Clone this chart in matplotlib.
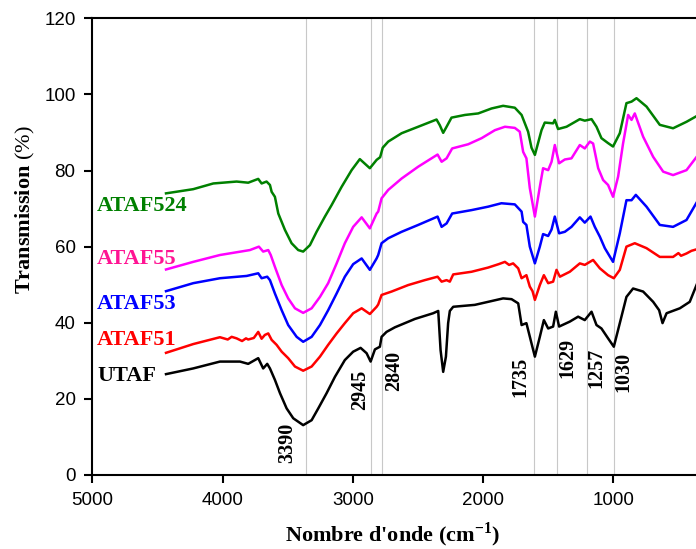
import matplotlib
matplotlib.use("Agg")
import matplotlib.pyplot as plt

plt.rcParams['mathtext.fontset'] = 'custom'
plt.rcParams['mathtext.rm'] = 'Liberation Serif'
plt.rcParams['mathtext.bf'] = 'Liberation Serif:bold'

# spectres FTIR (nombre d'onde cm-1, transmission %)
w_green = [4434, 4225, 4071, 3892, 3803, 3726, 3700, 3662, 3636, 3623, 3598, 3572, 3521, 3470,
           3419, 3381, 3329, 3278, 3214, 3163, 3086, 3009, 2946, 2869, 2817, 2790, 2770, 2728,
           2625, 2498, 2357, 2332, 2306, 2280, 2242, 2139, 2037, 1935, 1846, 1756, 1704, 1654,
           1628, 1602, 1551, 1526, 1462, 1449, 1424, 1359, 1257, 1219, 1167, 1129, 1091, 1040,
           1002, 950, 899, 860, 822, 745, 643, 541, 438, 360]
t_green = [74.0, 75.1, 76.6, 77.1, 76.8, 77.8, 76.6, 77.1, 76.2, 74.4, 73.1, 68.7, 64.4, 60.9,
           59.1, 58.7, 60.4, 63.9, 67.9, 70.9, 75.7, 80.1, 83.0, 80.6, 82.8, 83.5, 86.0, 87.6,
           89.8, 91.5, 93.4, 91.9, 89.9, 91.5, 93.9, 94.6, 95.0, 96.3, 97.0, 96.5, 94.6, 90.2,
           86.0, 84.1, 90.6, 92.6, 92.4, 93.3, 90.9, 91.5, 93.5, 93.1, 93.5, 91.5, 88.5, 87.2,
           86.3, 89.8, 97.7, 98.1, 99.0, 96.8, 92.0, 91.1, 92.8, 94.3]

w_mag = [4434, 4225, 4020, 3790, 3721, 3688, 3649, 3630, 3598, 3546, 3496, 3444, 3381, 3316,
         3252, 3189, 3124, 3061, 2997, 2932, 2869, 2817, 2805, 2779, 2728, 2625, 2498, 2349,
         2318, 2280, 2237, 2114, 2011, 1909, 1832, 1756, 1718, 1692, 1667, 1641, 1602, 1564,
         1539, 1500, 1474, 1449, 1416, 1372, 1321, 1257, 1219, 1180, 1155, 1116, 1078, 1040,
         1002, 963, 925, 886, 860, 835, 771, 694, 617, 541, 438, 360]
t_mag = [54.0, 56.0, 57.8, 59.1, 60.0, 58.7, 59.1, 57.8, 54.7, 49.9, 46.4, 43.8, 42.6, 43.8,
         46.8, 50.4, 55.6, 60.9, 65.2, 67.7, 64.8, 68.7, 69.2, 72.7, 74.9, 77.9, 81.0, 84.2,
         82.3, 83.2, 85.8, 86.9, 88.5, 90.6, 91.5, 91.2, 90.2, 84.9, 83.2, 75.4, 67.9, 75.7,
         80.6, 80.1, 82.3, 86.7, 81.9, 82.9, 83.2, 86.7, 85.8, 87.6, 87.1, 80.6, 77.5, 76.2,
         73.1, 78.4, 87.1, 94.6, 93.3, 95.0, 88.9, 83.6, 79.7, 78.8, 80.1, 83.6]

w_blue = [4434, 4225, 4020, 3815, 3726, 3700, 3657, 3636, 3598, 3546, 3496, 3431, 3381, 3316,
          3252, 3189, 3124, 3061, 2997, 2932, 2869, 2817, 2805, 2779, 2728, 2625, 2498, 2349,
          2318, 2280, 2237, 2088, 1961, 1859, 1756, 1704, 1692, 1667, 1641, 1602, 1564, 1539,
          1500, 1474, 1449, 1416, 1372, 1321, 1257, 1219, 1175, 1142, 1103, 1065, 1002, 950,
          899, 860, 827, 745, 643, 541, 438, 360]
t_blue = [48.3, 50.4, 51.7, 52.3, 53.0, 51.7, 52.1, 51.2, 47.7, 43.3, 39.4, 36.3, 35.0, 36.3,
          39.4, 43.3, 47.7, 52.1, 55.4, 56.9, 53.9, 56.9, 57.8, 60.9, 62.2, 63.9, 65.7, 67.9,
          65.2, 66.1, 68.7, 69.6, 70.5, 71.4, 71.1, 69.2, 66.5, 65.7, 60.0, 55.6, 60.0, 63.3,
          62.8, 64.5, 67.9, 63.5, 63.9, 65.2, 67.7, 66.3, 67.9, 65.2, 62.6, 59.6, 56.0, 63.5,
          72.2, 72.2, 73.6, 70.5, 65.7, 65.2, 67.0, 71.6]

w_red = [4434, 4225, 4020, 3960, 3930, 3892, 3850, 3820, 3803, 3760, 3726, 3700, 3675, 3649,
         3623, 3585, 3546, 3496, 3444, 3381, 3316, 3252, 3189, 3124, 3061, 2997, 2932, 2869,
         2817, 2805, 2779, 2702, 2575, 2447, 2349, 2318, 2280, 2255, 2229, 2088, 1961, 1880,
         1832, 1800, 1769, 1730, 1704, 1667, 1641, 1620, 1602, 1564, 1533, 1500, 1462, 1436,
         1410, 1334, 1257, 1219, 1155, 1103, 1040, 996, 950, 899, 835, 745, 643, 541, 500, 480,
         438, 400, 360]
t_red = [32.1, 34.4, 36.2, 35.6, 36.3, 35.9, 35.2, 35.9, 35.6, 36.0, 37.6, 35.8, 36.8, 37.2,
         35.5, 34.2, 32.4, 30.7, 28.5, 27.4, 28.5, 31.1, 34.2, 37.2, 39.9, 42.5, 43.8, 42.3,
         44.2, 44.8, 47.3, 48.2, 49.9, 51.2, 52.1, 50.8, 51.2, 50.8, 52.7, 53.4, 54.5, 55.4,
         56.0, 55.2, 55.6, 54.3, 51.7, 52.5, 49.5, 48.3, 46.0, 49.9, 52.5, 50.4, 50.8, 53.9,
         52.1, 53.4, 55.6, 55.2, 56.5, 54.3, 52.5, 51.7, 53.9, 60.0, 60.9, 59.6, 57.3, 57.3,
         58.3, 57.6, 58.2, 58.9, 59.3]

w_black = [4434, 4225, 4020, 3866, 3803, 3726, 3688, 3657, 3636, 3598, 3559, 3508, 3457, 3381,
           3316, 3265, 3201, 3137, 3061, 2997, 2940, 2894, 2863, 2830, 2792, 2779, 2741, 2677,
           2523, 2383, 2344, 2326, 2306, 2285, 2268, 2255, 2229, 2063, 1935, 1846, 1781, 1730,
           1704, 1667, 1628, 1602, 1564, 1533, 1500, 1462, 1441, 1416, 1334, 1270, 1219, 1167,
           1129, 1091, 1040, 996, 950, 899, 848, 771, 694, 648, 622, 591, 489, 413, 360]
t_black = [26.5, 28.0, 29.8, 29.8, 29.2, 30.7, 28.0, 29.2, 28.0, 25.0, 21.5, 17.5, 14.9, 13.1,
           14.4, 17.5, 21.5, 25.8, 30.2, 32.4, 33.4, 32.0, 29.8, 33.0, 33.7, 36.3, 37.6, 38.8,
           41.0, 42.5, 43.1, 32.8, 27.1, 31.1, 39.9, 43.1, 44.2, 44.7, 45.7, 46.4, 46.2, 45.1,
           39.4, 39.9, 34.6, 31.1, 36.3, 40.7, 38.5, 39.0, 42.9, 39.0, 40.3, 41.6, 40.7, 42.9,
           39.4, 38.5, 35.9, 33.7, 39.9, 46.8, 49.0, 48.2, 45.5, 43.3, 39.9, 42.5, 43.8, 45.5,
           50.0]

series = [
    ("ATAF524", w_green, t_green, "#008000", "#008000", 70.6),
    ("ATAF55", w_mag, t_mag, "#ff00ff", "#ff1493", 56.8),
    ("ATAF53", w_blue, t_blue, "#0000ff", "#0000ff", 45.0),
    ("ATAF51", w_red, t_red, "#ff0000", "#ff0000", 35.6),
    ("UTAF", w_black, t_black, "#000000", "#000000", 26.0),
]

# lignes verticales et etiquettes des bandes
band_lines = [3362, 2859, 2779, 1608, 1431, 1205, 996]
band_labels = ["3390", "2945", "2840", "1735", "1629", "1257", "1030"]
band_lab_x = [3506, 2945, 2684, 1717, 1349, 1127, 919]
band_lab_y = [8.4, 22.3, 27.3, 25.7, 30.7, 28.1, 27.1]

fig = plt.figure(figsize=(6.96, 5.49), dpi=100)
ax = fig.add_axes([0.1326, 0.1348, 0.8674, 0.8319])

for xv in band_lines:
    ax.axvline(xv, color="#c8c8c8", lw=0.8, zorder=0)

for name, w, t, c, tc, ly in series:
    ax.plot(w, t, color=c, lw=1.8, zorder=2, solid_joinstyle="round")
    ax.text(4964, ly, name, color=tc, fontsize=16, fontweight="bold",
            family="Liberation Serif", ha="left", va="center")

for lab, x, y in zip(band_labels, band_lab_x, band_lab_y):
    ax.text(x, y, lab, rotation=90, fontsize=14.5, fontweight="bold",
            family="Liberation Serif", ha="center", va="center")

ax.set_xlim(5000, 365)
ax.set_ylim(0, 120)
ax.set_xticks([5000, 4000, 3000, 2000, 1000])
ax.set_yticks([0, 20, 40, 60, 80, 100, 120])
ax.spines["right"].set_visible(False)
for s in ["left", "bottom", "top"]:
    ax.spines[s].set_linewidth(1.5)
ax.tick_params(direction="out", length=6, width=1.5, labelsize=13.5, pad=6)
for lbl in ax.get_xticklabels() + ax.get_yticklabels():
    lbl.set_family("Liberation Sans")

fig.text(393 / 696, 1 - 535 / 549, "Nombre d'onde (cm$^{\\mathbf{-1}}$)", fontsize=16,
         fontweight="bold", family="Liberation Serif", ha="center", va="center")
fig.text(25 / 696, 1 - 210 / 549, "Transmission $\\mathrm{(\\%)}$", fontsize=16,
         fontweight="bold", family="Liberation Serif", rotation=90, ha="center", va="center")

fig.savefig("out.png", dpi=100)
